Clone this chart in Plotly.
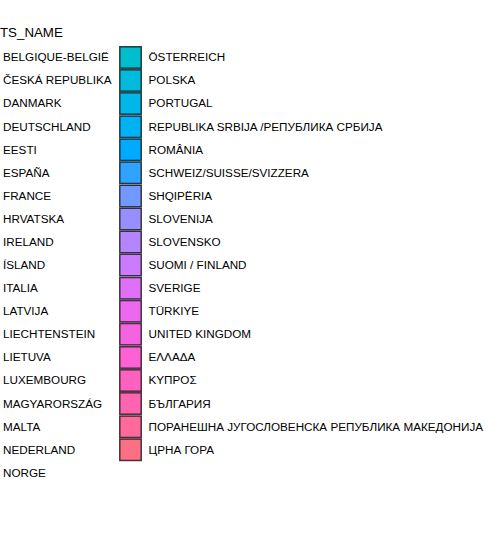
import math
import plotly.graph_objects as go

# ---- data ----
legend_title = "TS_NAME"
names_col1 = [
    "BELGIQUE-BELGIË", "ČESKÁ REPUBLIKA", "DANMARK", "DEUTSCHLAND", "EESTI",
    "ESPAÑA", "FRANCE", "HRVATSKA", "IRELAND", "ÍSLAND", "ITALIA", "LATVIJA",
    "LIECHTENSTEIN", "LIETUVA", "LUXEMBOURG", "MAGYARORSZÁG", "MALTA",
    "NEDERLAND", "NORGE",
]
names_col2 = [
    "ÖSTERREICH", "POLSKA", "PORTUGAL", "REPUBLIKA SRBIJA /РЕПУБЛИКА СРБИЈА",
    "ROMÂNIA", "SCHWEIZ/SUISSE/SVIZZERA", "SHQIPËRIA", "SLOVENIJA", "SLOVENSKO",
    "SUOMI / FINLAND", "SVERIGE", "TÜRKIYE", "UNITED KINGDOM", "ΕΛΛΑΔΑ",
    "ΚΥΠΡΟΣ", "БЪЛГАРИЯ", "ПОРАНЕШНА ЈУГОСЛОВЕНСКА РЕПУБЛИКА МАКЕДОНИЈА",
    "ЦРНА ГОРА",
]
categories = names_col1 + names_col2


# ---- ggplot-like hue palette (hcl, c=100, l=65) ----
def hcl_to_hex(h, c=100.0, l=65.0):
    WY, Wu, Wv = 100.0, 0.1978398, 0.4683363
    hr = math.radians(h)
    U, V = c * math.cos(hr), c * math.sin(hr)
    Y = WY * (((l + 16) / 116) ** 3 if l > 7.999592 else l / 903.3)
    u = U / (13 * l) + Wu
    v = V / (13 * l) + Wv
    X = 9.0 * Y * u / (4 * v)
    Z = -X / 3 - 5 * Y + 3 * Y / v

    def g(x):
        x = x / WY
        x = 1.055 * x ** (1 / 2.4) - 0.055 if x > 0.00304 else 12.92 * x
        return max(0, min(255, round(255 * x)))

    r = g(3.240479 * X - 1.537150 * Y - 0.498535 * Z)
    gg = g(-0.969256 * X + 1.875992 * Y + 0.041556 * Z)
    b = g(0.055648 * X - 0.204043 * Y + 1.057311 * Z)
    return "#%02x%02x%02x" % (r, gg, b)


n = len(categories)
colors = [hcl_to_hex(15 + 360 * i / n) for i in range(n)]

# ---- layout positions (legend grid, 2 columns filled column-wise) ----
nrow = math.ceil(n / 2)
row0, pitch = 57.4, 23.08
key_x = [-16.5, 130.5]
label_x = [3.0, 148.5]

kx, ky, lx, ly = [], [], [], []
for i, name in enumerate(categories):
    col, row = divmod(i, nrow)
    kx.append(key_x[col])
    ky.append(row0 + row * pitch)
    lx.append(label_x[col])
    ly.append(row0 + 1.0 + row * pitch)

fig = go.Figure()
fig.add_trace(go.Scatter(
    x=kx, y=ky, mode="markers", hoverinfo="skip", showlegend=False,
    cliponaxis=True,
    marker=dict(symbol="square", size=21.5, color=colors,
                line=dict(color="rgba(0,0,0,0.72)", width=1.5)),
))
fig.add_trace(go.Scatter(
    x=lx, y=ly, mode="text", text=categories, textposition="middle right",
    hoverinfo="skip", showlegend=False, cliponaxis=False,
    textfont=dict(family="Liberation Sans, Arial, sans-serif", size=11.7, color="#000000"),
))

fig.add_annotation(
    text=legend_title, xref="paper", yref="paper", x=-2.0 / 498, y=1 - 32 / 546,
    xanchor="left", yanchor="middle", showarrow=False,
    font=dict(family="Liberation Sans, Arial, sans-serif", size=13.3, color="#000000"),
)

fig.update_layout(
    width=498, height=546, margin=dict(l=0, r=0, t=0, b=0),
    paper_bgcolor="white", plot_bgcolor="white",
    xaxis=dict(range=[0, 498], visible=False, fixedrange=True),
    yaxis=dict(range=[546, 0], visible=False, fixedrange=True),
)

fig.write_html("out.html")
